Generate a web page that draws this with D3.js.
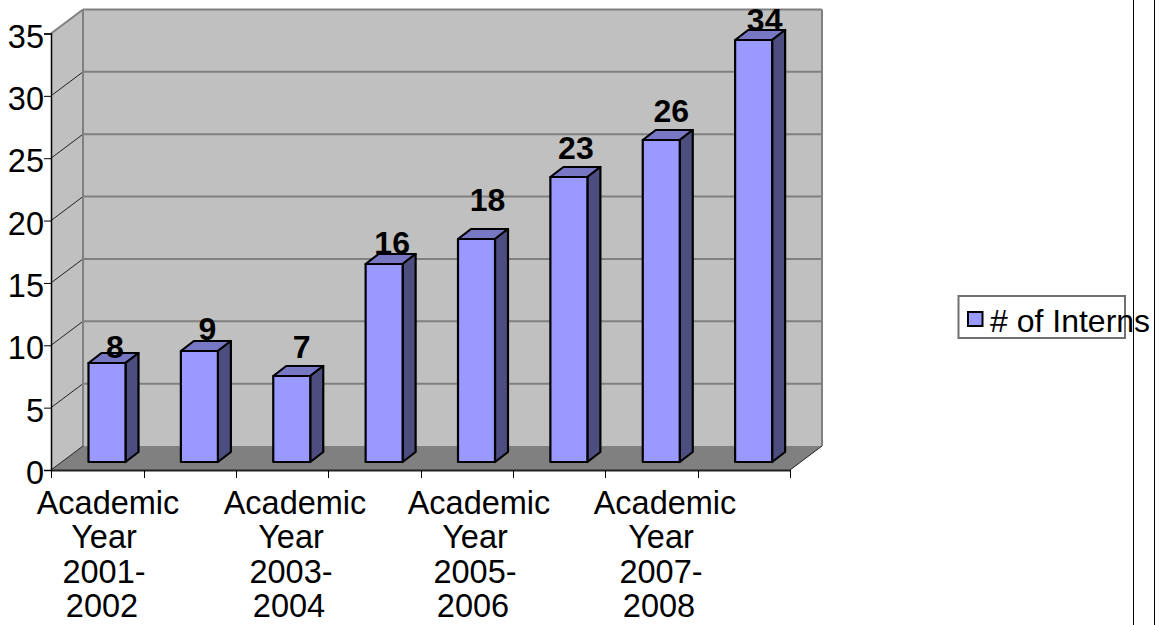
<!DOCTYPE html>
<html><head><meta charset="utf-8">
<script src="https://cdn.jsdelivr.net/npm/d3@7"></script>
<style>html,body{margin:0;padding:0;background:#fff}svg{display:block}text{font-family:"Liberation Sans",Arial,sans-serif;fill:#000}</style>
</head><body><svg id="c" width="1167" height="625"></svg>
<script>
const categories=["Academic Year 2001-2002","Academic Year 2002-2003","Academic Year 2003-2004","Academic Year 2004-2005","Academic Year 2005-2006","Academic Year 2006-2007","Academic Year 2007-2008","Academic Year 2008-2009"];
const interns=[8,9,7,16,18,23,26,34];
const yTicks=[0,5,10,15,20,25,30,35];
const labelLines=[["Academic","Year","2001-","2002"],["Academic","Year","2003-","2004"],["Academic","Year","2005-","2006"],["Academic","Year","2007-","2008"]];
const seriesName="# of Interns";

const svg=d3.select("#c");
const W={x0:51,x1:790,dx:32,dy:24,y0:470,y1:33.5};
const x=d3.scaleBand().domain(categories).range([W.x0,W.x1]);
const y=d3.scaleLinear().domain([0,35]).range([W.y0,W.y1]);
const yBar=d3.scaleLinear().domain([0,35]).range([462,27.5]);
const poly=(pts,fill,stroke,sw)=>svg.append("polygon").attr("points",pts.map(p=>p.join(",")).join(" ")).attr("fill",fill).attr("stroke",stroke||"none").attr("stroke-width",sw||0).attr("stroke-linejoin","round");
const line=(a,b,c,w)=>svg.append("line").attr("x1",a[0]).attr("y1",a[1]).attr("x2",b[0]).attr("y2",b[1]).attr("stroke",c).attr("stroke-width",w);
// page rules
line([1133.5,0],[1133.5,625],"#000",1);line([1154.5,0],[1154.5,625],"#000",1);
// walls
poly([[W.x0+W.dx,W.y1-W.dy],[W.x1+W.dx,W.y1-W.dy],[W.x1+W.dx,W.y0-W.dy],[W.x0+W.dx,W.y0-W.dy]],"#c0c0c0");
poly([[W.x0,W.y1],[W.x0+W.dx,W.y1-W.dy],[W.x0+W.dx,W.y0-W.dy],[W.x0,W.y0]],"#c0c0c0");
poly([[W.x0,W.y0],[W.x1,W.y0],[W.x1+W.dx,W.y0-W.dy],[W.x0+W.dx,W.y0-W.dy]],"#808080");
yTicks.forEach(t=>{
  if(t>0){
    line([W.x0+W.dx,y(t)-W.dy],[W.x1+W.dx,y(t)-W.dy],"#808080",2);
    line([W.x0,y(t)],[W.x0+W.dx,y(t)-W.dy],t===35?"#808080":"#222",t===35?2:1);
  }
});
line([W.x0+W.dx,W.y1-W.dy],[W.x0+W.dx,W.y0-W.dy],"#808080",2);
line([W.x1+W.dx,W.y1-W.dy],[W.x1+W.dx,W.y0-W.dy],"#808080",2);
line([W.x0,W.y0],[W.x0+W.dx,W.y0-W.dy],"#222",1);
line([W.x1,W.y0],[W.x1+W.dx,W.y0-W.dy],"#222",1);
// axes
const yAxis=d3.axisLeft(y).tickValues(yTicks).tickSize(7).tickPadding(0);
const gy=svg.append("g").attr("transform",`translate(${W.x0},0)`).call(yAxis);
gy.select(".domain").attr("stroke","#000").attr("stroke-width",1.5);
gy.selectAll("line").attr("stroke","#000");
gy.selectAll("text").attr("font-size",32.5).attr("font-family",'"Liberation Sans"').attr("fill","#000").attr("dy","0.42em");
const tickXs=d3.range(categories.length+1).map(i=>W.x0+i*x.bandwidth());
line([W.x0,W.y0+.5],[W.x1,W.y0+.5],"#222",2);
tickXs.forEach(t=>line([Math.round(t+.2)+.5,W.y0],[Math.round(t+.2)+.5,W.y0+8],"#000",1));
// bars
const bw=37,dx=13,dy=10;
interns.forEach((v,i)=>{
  const l=x(categories[i])+37.5, r=l+bw, t=Math.round(yBar(v)+.4), b=yBar(0);
  poly([[l,t],[r,t],[r+dx,t-dy],[l+dx,t-dy]],"#7777c4","#000",2.2);
  poly([[r,t],[r+dx,t-dy],[r+dx,b-dy],[r,b]],"#4d4d80","#000",2.2);
  poly([[l,t],[r,t],[r,b],[l,b]],"#9999ff","#000",2.2);
});
// value labels
const labelDy=[-5,-10,-17,-9,-28,-17,-17,-9];
const labelDx=[8,8,10,8,11,7,10,11];
interns.forEach((v,i)=>{
  svg.append("text").attr("x",x(categories[i])+37.5+18.5+labelDx[i]).attr("y",yBar(v)+labelDy[i]).attr("text-anchor","middle").attr("font-size",32).attr("font-weight","bold").text(v);
});
// category labels
const lx=[108,295,479,665];
const lineDx=[0,-4,-4,-6];
labelLines.forEach((ls,i)=>ls.forEach((s,j)=>{
  svg.append("text").attr("x",lx[i]+lineDx[j]).attr("y",514+j*34.3).attr("text-anchor","middle").attr("font-size",32.5).text(s);
}));
// legend
svg.append("rect").attr("x",958.5).attr("y",296).attr("width",166.5).attr("height",42).attr("fill","none").attr("stroke","#707070").attr("stroke-width",2);
svg.append("rect").attr("x",968).attr("y",312).attr("width",14.5).attr("height",14).attr("fill","#9999ff").attr("stroke","#000").attr("stroke-width",2);
svg.append("text").attr("x",990).attr("y",332).attr("font-size",32).text(seriesName);
</script></body></html>
